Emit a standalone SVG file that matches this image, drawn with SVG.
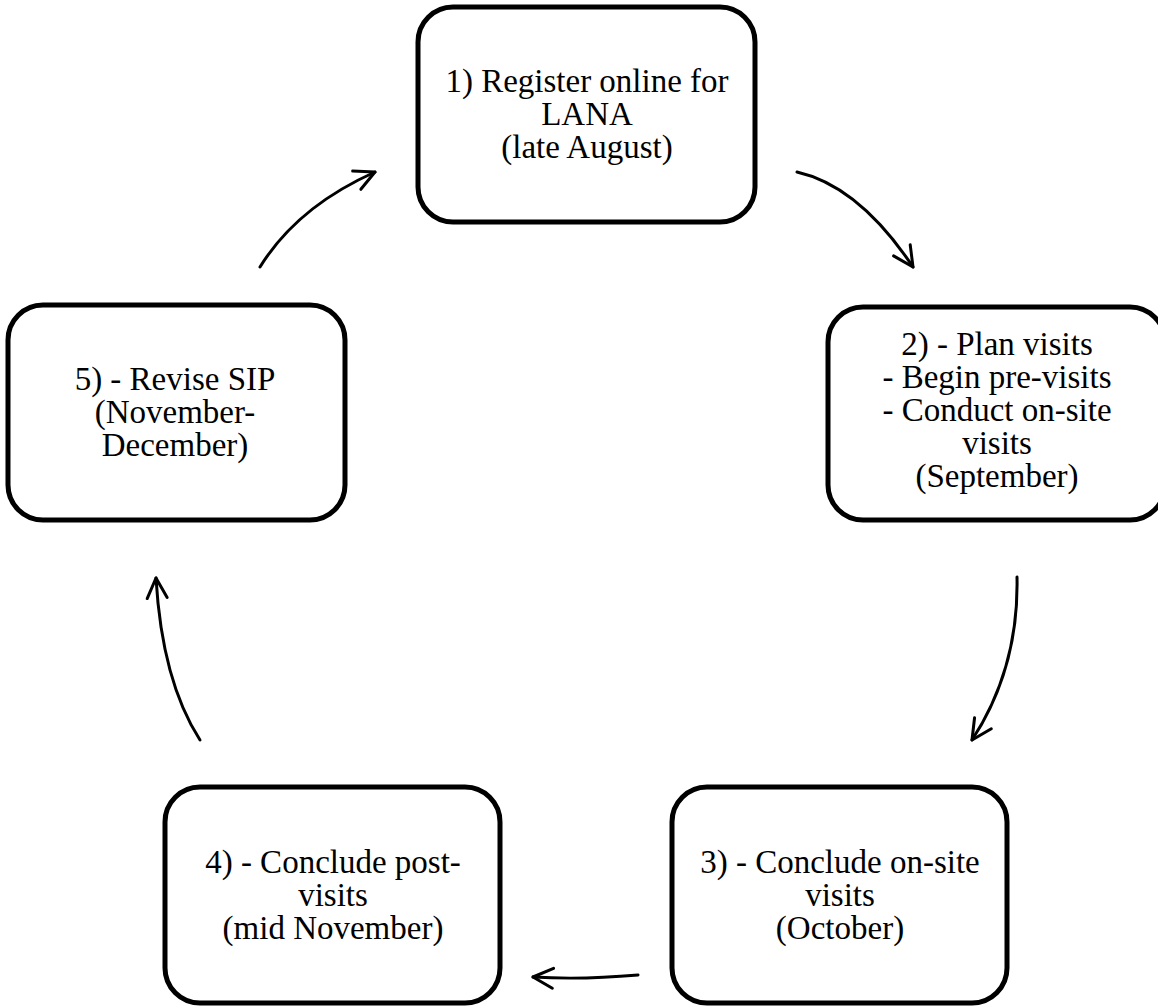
<svg xmlns="http://www.w3.org/2000/svg" width="1158" height="1006" viewBox="0 0 1158 1006">
<style>
.box{fill:#fff;stroke:#000;stroke-width:5}
.lbl{font-family:"Liberation Serif","Times New Roman",serif;font-size:33px;fill:#000;text-anchor:middle}
.arr{fill:none;stroke:#000;stroke-width:3;stroke-linecap:round;marker-end:url(#head)}
</style>
<defs>
<marker id="head" markerUnits="userSpaceOnUse" viewBox="-25 -15 30 30" refX="0" refY="0" markerWidth="30" markerHeight="30" orient="auto" overflow="visible">
<path d="M -20 -10 L 0 0 L -20 10" fill="none" stroke="#000" stroke-width="3" stroke-linecap="round" stroke-linejoin="round"/>
</marker>
</defs>
<rect width="1158" height="1006" fill="#fff"/>
<g id="node1">
<rect class="box" x="418" y="7" width="337" height="215" rx="35"/>
<text class="lbl" x="587" y="92">1) Register online for</text>
<text class="lbl" x="587" y="125">LANA</text>
<text class="lbl" x="587" y="158">(late August)</text>
</g>
<g id="node2">
<rect class="box" x="828" y="307" width="337" height="213" rx="35"/>
<text class="lbl" x="997" y="355">2) - Plan visits</text>
<text class="lbl" x="997" y="388">- Begin pre-visits</text>
<text class="lbl" x="997" y="421">- Conduct on-site</text>
<text class="lbl" x="997" y="454">visits</text>
<text class="lbl" x="997" y="487">(September)</text>
</g>
<g id="node3">
<rect class="box" x="672" y="787" width="335" height="216" rx="35"/>
<text class="lbl" x="840" y="873">3) - Conclude on-site</text>
<text class="lbl" x="840" y="906">visits</text>
<text class="lbl" x="840" y="939">(October)</text>
</g>
<g id="node4">
<rect class="box" x="165" y="787" width="335" height="216" rx="35"/>
<text class="lbl" x="333" y="873">4) - Conclude post-</text>
<text class="lbl" x="333" y="906">visits</text>
<text class="lbl" x="333" y="939">(mid November)</text>
</g>
<g id="node5">
<rect class="box" x="8" y="305" width="337" height="215" rx="35"/>
<text class="lbl" x="175" y="390">5) - Revise SIP</text>
<text class="lbl" x="175" y="423">(November-</text>
<text class="lbl" x="175" y="456">December)</text>
</g>
<g id="connectors">
<path class="arr" d="M 797 172 Q 859 186 913 267"/>
<path class="arr" d="M 1017 577 Q 1019 668 972 740"/>
<path class="arr" d="M 638 975 Q 581 980 533 977"/>
<path class="arr" d="M 200 740 Q 162 681 156 578"/>
<path class="arr" d="M 260 267 Q 297 207 375 172"/>
</g>
</svg>
